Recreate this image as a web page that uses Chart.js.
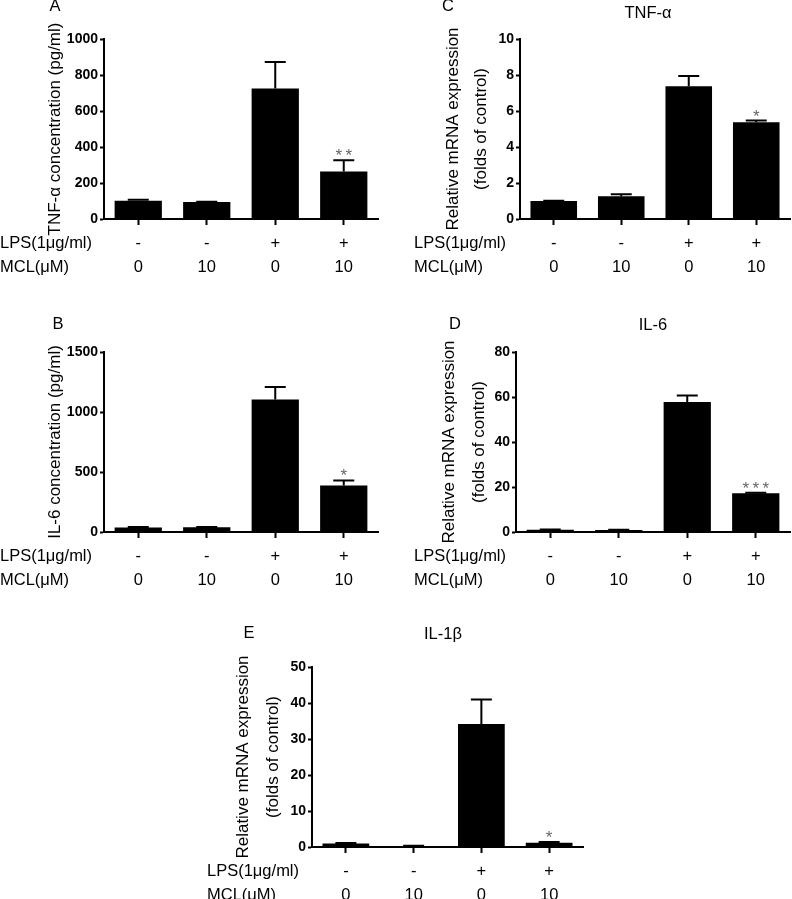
<!DOCTYPE html>
<html>
<head>
<meta charset="utf-8">
<script src="https://cdn.jsdelivr.net/npm/chart.js@4/dist/chart.umd.min.js"></script>
<style>
  html, body { margin: 0; padding: 0; background: #fff; }
  #wrap { position: relative; width: 792px; height: 899px; overflow: hidden; background: #fff; }
  #wrap canvas { position: absolute; }
</style>
</head>
<body>
<div id="wrap">
  <canvas id="cA" width="396" height="300" style="left:0px;top:0px;width:396px;height:300px"></canvas>
  <canvas id="cC" width="396" height="300" style="left:396px;top:0px;width:396px;height:300px"></canvas>
  <canvas id="cB" width="396" height="300" style="left:0px;top:300px;width:396px;height:300px"></canvas>
  <canvas id="cD" width="396" height="300" style="left:396px;top:300px;width:396px;height:300px"></canvas>
  <canvas id="cE" width="400" height="299" style="left:196px;top:600px;width:400px;height:299px"></canvas>
</div>
<script>
// ---------------- data ----------------
const categories = [["-", "0"], ["-", "10"], ["+", "0"], ["+", "10"]];
const rowHeadings = ["LPS(1\u03BCg/ml)", "MCL(\u03BCM)"];

// A: TNF-alpha protein (pg/ml)
const tnfProtein    = [102, 94, 725, 264];
const tnfProteinErr = [5, 2, 147, 62];
const tnfProteinSig = ["", "", "", "**"];
// B: IL-6 protein (pg/ml)
const il6Protein    = [38, 40, 1105, 388];
const il6ProteinErr = [3, 2, 103, 42];
const il6ProteinSig = ["", "", "", "*"];
// C: TNF-alpha mRNA (folds of control)
const tnfMrna    = [1.0, 1.27, 7.37, 5.37];
const tnfMrnaErr = [0.02, 0.1, 0.58, 0.1];
const tnfMrnaSig = ["", "", "", "*"];
// D: IL-6 mRNA
const il6Mrna    = [1.0, 0.9, 57.8, 17.2];
const il6MrnaErr = [0.1, 0.1, 2.9, 0.3];
const il6MrnaSig = ["", "", "", "***"];
// E: IL-1beta mRNA
const il1bMrna    = [1.0, 0.3, 34.2, 1.2];
const il1bMrnaErr = [0.1, 0.05, 6.8, 0.2];
const il1bMrnaSig = ["", "", "", "*"];

const yMaxA = 1000, yStepA = 200;
const yMaxB = 1500, yStepB = 500;
const yMaxC = 10,   yStepC = 2;
const yMaxD = 80,   yStepD = 20;
const yMaxE = 50,   yStepE = 10;

const yTitleA = "TNF-\u03B1 concentration (pg/ml)";
const yTitleB = "IL-6 concentration (pg/ml)";
const yTitleMrna = ["Relative mRNA expression", "(folds of control)"];
const titleC = "TNF-\u03B1", titleD = "IL-6", titleE = "IL-1\u03B2";

// ---------------- drawing ----------------
const FAMILY = "'Liberation Sans', Arial, Helvetica, sans-serif";

function makePanel(id, cfg) {
  const canvas = document.getElementById(id);
  const W = canvas.width, H = canvas.height;
  const decor = {
    id: 'decor_' + id,
    afterDatasetsDraw(chart) {
      const ctx = chart.ctx;
      const meta = chart.getDatasetMeta(0);
      const ys = chart.scales.y;
      ctx.save();
      ctx.strokeStyle = '#000';
      ctx.lineWidth = 2;
      meta.data.forEach((bar, i) => {
        const top = ys.getPixelForValue(cfg.values[i] + cfg.errors[i]);
        ctx.beginPath();
        ctx.moveTo(bar.x, bar.y);
        ctx.lineTo(bar.x, top);
        ctx.moveTo(bar.x - 10.5, top);
        ctx.lineTo(bar.x + 10.5, top);
        ctx.stroke();
        if (cfg.sig[i]) {
          ctx.fillStyle = '#666';
          ctx.font = '17px ' + FAMILY;
          ctx.textAlign = 'center';
          ctx.textBaseline = 'alphabetic';
          ctx.fillText(cfg.sig[i].split('').join('\u2009'), bar.x, top + 1);
        }
      });
      ctx.restore();
    },
    afterDraw(chart) {
      const ctx = chart.ctx;
      const area = chart.chartArea;
      ctx.save();
      ctx.fillStyle = '#000';
      ctx.font = '16.5px ' + FAMILY;
      ctx.textBaseline = 'middle';
      ctx.textAlign = 'left';
      const y0 = area.bottom + 24;
      rowHeadings.forEach((h, k) => ctx.fillText(h, cfg.rowX, y0 + k * 24));
      ctx.textAlign = 'center';
      ctx.fillText(cfg.letter, cfg.letterPos[0], cfg.letterPos[1]);
      if (cfg.title) ctx.fillText(cfg.title, cfg.titlePos[0], cfg.titlePos[1]);
      ctx.restore();
    }
  };

  return new Chart(canvas.getContext('2d'), {
    type: 'bar',
    data: {
      labels: categories,
      datasets: [{
        data: cfg.values,
        backgroundColor: '#000',
        borderWidth: 0,
        barPercentage: 0.69,
        categoryPercentage: 1.0
      }]
    },
    options: {
      responsive: false,
      animation: false,
      devicePixelRatio: 1,
      layout: { padding: { left: 0, top: cfg.area.top, right: W - cfg.area.right, bottom: 0 } },
      plugins: { legend: { display: false }, tooltip: { enabled: false }, title: { display: false } },
      scales: {
        x: {
          offset: true,
          grid: { display: true, drawOnChartArea: false, drawTicks: true, tickLength: 6, tickWidth: 2, color: '#000', offset: false },
          border: { display: true, color: '#000', width: 2 },
          ticks: {
            color: '#000', padding: 6, maxRotation: 0, minRotation: 0, autoSkip: false,
            font: { family: FAMILY, size: 16.5, lineHeight: '24px' }
          },
          afterFit(s) { s.height = H - cfg.area.bottom; }
        },
        y: {
          min: 0, max: cfg.max,
          ticks: {
            stepSize: cfg.step, color: '#000', padding: 2,
            font: { family: FAMILY, size: 14, weight: 'bold' },
            callback: (v) => String(v)
          },
          grid: { display: true, drawOnChartArea: false, drawTicks: true, tickLength: 4, tickWidth: 2, color: '#000' },
          border: { display: true, color: '#000', width: 2 },
          title: {
            display: true, text: cfg.yTitle, color: '#000',
            font: { family: FAMILY, size: 17, lineHeight: cfg.titleLH },
            padding: { top: cfg.titlePad, bottom: 0 }
          },
          afterFit(s) { s.width = cfg.area.left; }
        }
      }
    },
    plugins: [decor]
  });
}

makePanel('cA', {
  values: tnfProtein, errors: tnfProteinErr, sig: tnfProteinSig,
  max: yMaxA, step: yStepA, yTitle: yTitleA, titleLH: '20px', titlePad: 45,
  area: { left: 104, top: 39, right: 378, bottom: 219 },
  rowX: 0, letter: 'A', letterPos: [55, 6], title: null
});
makePanel('cB', {
  values: il6Protein, errors: il6ProteinErr, sig: il6ProteinSig,
  max: yMaxB, step: yStepB, yTitle: yTitleB, titleLH: '20px', titlePad: 45,
  area: { left: 104, top: 52, right: 378, bottom: 232 },
  rowX: 0, letter: 'B', letterPos: [58, 24], title: null
});
makePanel('cC', {
  values: tnfMrna, errors: tnfMrnaErr, sig: tnfMrnaSig,
  max: yMaxC, step: yStepC, yTitle: yTitleMrna, titleLH: '28px', titlePad: 43,
  area: { left: 124, top: 39, right: 394, bottom: 219 },
  rowX: 18, letter: 'C', letterPos: [52, 6], title: titleC, titlePos: [252, 13]
});
makePanel('cD', {
  values: il6Mrna, errors: il6MrnaErr, sig: il6MrnaSig,
  max: yMaxD, step: yStepD, yTitle: yTitleMrna, titleLH: '30px', titlePad: 38,
  area: { left: 120, top: 52, right: 394, bottom: 232 },
  rowX: 18, letter: 'D', letterPos: [59, 24], title: titleD, titlePos: [257, 25]
});
makePanel('cE', {
  values: il1bMrna, errors: il1bMrnaErr, sig: il1bMrnaSig,
  max: yMaxE, step: yStepE, yTitle: yTitleMrna, titleLH: '30px', titlePad: 32,
  area: { left: 116, top: 67, right: 387, bottom: 247 },
  rowX: 11, letter: 'E', letterPos: [53, 33], title: titleE, titlePos: [247, 34]
});
</script>
</body>
</html>
